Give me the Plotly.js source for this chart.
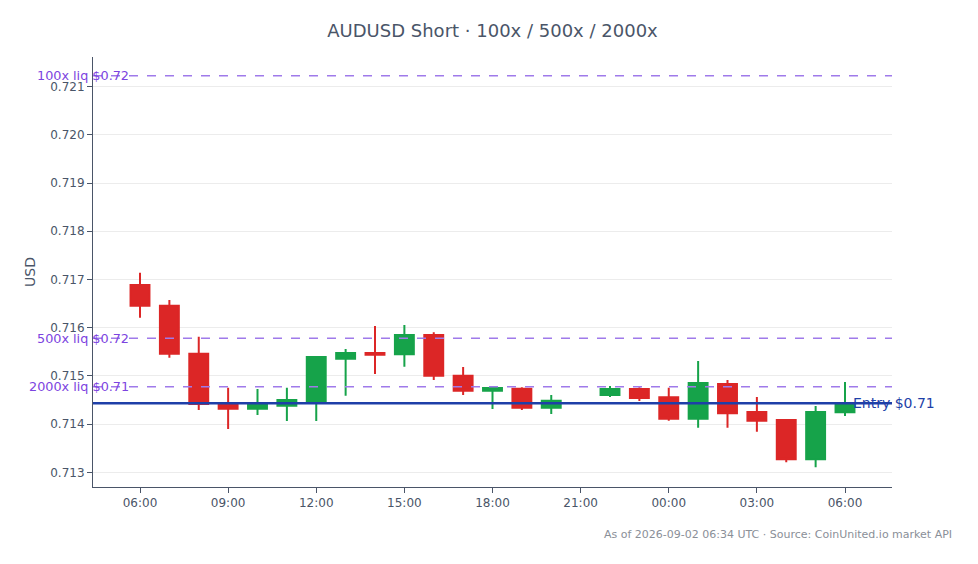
<!DOCTYPE html>
<html>
<head>
<meta charset="utf-8">
<script src="https://cdn.plot.ly/plotly-3.0.1.min.js"></script>
<style>
  html, body { margin: 0; padding: 0; background: #fff; }
  #chart { width: 978px; height: 564px; }
</style>
</head>
<body>
<div id="chart"></div>
<script>
// hourly candles, 21:00 bar missing in the feed
var times = [
  "2026-09-01 06:00", "2026-09-01 07:00", "2026-09-01 08:00", "2026-09-01 09:00",
  "2026-09-01 10:00", "2026-09-01 11:00", "2026-09-01 12:00", "2026-09-01 13:00",
  "2026-09-01 14:00", "2026-09-01 15:00", "2026-09-01 16:00", "2026-09-01 17:00",
  "2026-09-01 18:00", "2026-09-01 19:00", "2026-09-01 20:00", "2026-09-01 22:00",
  "2026-09-01 23:00", "2026-09-02 00:00", "2026-09-02 01:00", "2026-09-02 02:00",
  "2026-09-02 03:00", "2026-09-02 04:00", "2026-09-02 05:00", "2026-09-02 06:00"
];
var opens = [
  0.716886, 0.716456, 0.715461, 0.714417, 0.714320, 0.714382, 0.714465, 0.715357,
  0.715475, 0.715448, 0.715849, 0.715004, 0.714693, 0.714735, 0.714340, 0.714604,
  0.714728, 0.714556, 0.714112, 0.714832, 0.714251, 0.714085, 0.713270, 0.714245
];
var highs = [
  0.717141, 0.716575, 0.715813, 0.714755, 0.714728, 0.714755, 0.715400, 0.715558,
  0.716035, 0.716056, 0.715905, 0.715185, 0.714760, 0.714764, 0.714604, 0.714790,
  0.714764, 0.714755, 0.715309, 0.714915, 0.714562, 0.714106, 0.714376, 0.714873
];
var lows = [
  0.716208, 0.715378, 0.714293, 0.713898, 0.714189, 0.714064, 0.714064, 0.714589,
  0.715039, 0.715191, 0.714915, 0.714604, 0.714313, 0.714293, 0.714210, 0.714562,
  0.714479, 0.714071, 0.713925, 0.713925, 0.713842, 0.713207, 0.713104, 0.714168
];
var closes = [
  0.716456, 0.715461, 0.714417, 0.714320, 0.714417, 0.714500, 0.715392, 0.715475,
  0.715440, 0.715849, 0.715004, 0.714693, 0.714749, 0.714340, 0.714486, 0.714728,
  0.714541, 0.714112, 0.714853, 0.714224, 0.714071, 0.713270, 0.714251, 0.714432
];

var entryPrice = 0.714432;
var liqLabels = ["100x liq $0.72", "500x liq $0.72", "2000x liq $0.71"];
var liqPrices = [0.721228, 0.715780, 0.714776];

var purple = "#9f7aea";
var purpleText = "#7c44e0";
var entryBlue = "#1e3fa8";

var shapes = [];
var annotations = [];

for (var i = 0; i < liqPrices.length; i++) {
  shapes.push({
    type: "line", xref: "paper", x0: 0, x1: 1,
    yref: "y", y0: liqPrices[i], y1: liqPrices[i],
    line: { color: purple, width: 1.5, dash: "dash" }
  });
  annotations.push({
    xref: "paper", x: 0.048, xanchor: "right",
    yref: "y", y: liqPrices[i], yanchor: "middle",
    text: liqLabels[i], showarrow: false,
    font: { size: 12.8, color: purpleText }
  });
}

shapes.push({
  type: "line", xref: "paper", x0: 0, x1: 1,
  yref: "y", y0: entryPrice, y1: entryPrice,
  line: { color: entryBlue, width: 2.5 }
});
annotations.push({
  xref: "paper", x: 0.949, xanchor: "left",
  yref: "y", y: entryPrice, yanchor: "middle",
  text: "Entry $" + entryPrice.toFixed(2), showarrow: false,
  font: { size: 14, color: entryBlue }
});

annotations.push({
  xref: "paper", x: 1.078, xanchor: "right",
  yref: "paper", y: -0.11, yanchor: "middle",
  text: "As of 2026-09-02 06:34 UTC · Source: CoinUnited.io market API",
  showarrow: false,
  font: { size: 11, color: "#8a8f98" }
});

var trace = {
  type: "candlestick",
  x: times, open: opens, high: highs, low: lows, close: closes,
  increasing: { line: { color: "#16a34a" }, fillcolor: "#16a34a" },
  decreasing: { line: { color: "#dc2626" }, fillcolor: "#dc2626" },
  showlegend: false
};

var layout = {
  width: 978,
  height: 564,
  margin: { l: 93, r: 86, t: 57, b: 77 },
  paper_bgcolor: "#ffffff",
  plot_bgcolor: "#ffffff",
  font: { family: "DejaVu Sans, sans-serif", color: "#4a5568", size: 12 },
  title: {
    text: "AUDUSD Short · 100x / 500x / 2000x",
    font: { size: 18, color: "#4a5568" },
    x: 0.5, xref: "paper", y: 0.957
  },
  showlegend: false,
  boxgap: 0.3,
  boxgroupgap: 0.08,
  xaxis: {
    type: "date",
    range: ["2026-09-01 04:24", "2026-09-02 07:36"],
    rangeslider: { visible: false },
    tickformat: "%H:%M",
    dtick: 3 * 3600 * 1000,
    showgrid: false,
    showline: true, linecolor: "#4a5568", linewidth: 1,
    ticks: "outside", ticklen: 5, tickcolor: "#4a5568",
    tickfont: { size: 12, color: "#4a5568" }
  },
  yaxis: {
    title: { text: "USD", font: { size: 14, color: "#4a5568" }, standoff: 11 },
    range: [0.712695, 0.721616],
    dtick: 0.001,
    tickformat: ".3f",
    showgrid: true, gridcolor: "#ececec",
    zeroline: false,
    showline: true, linecolor: "#4a5568", linewidth: 1,
    ticks: "outside", ticklen: 5, tickcolor: "#4a5568",
    tickfont: { size: 12, color: "#4a5568" }
  },
  shapes: shapes,
  annotations: annotations
};

Plotly.newPlot("chart", [trace], layout, { displayModeBar: false, staticPlot: true });
</script>
</body>
</html>
